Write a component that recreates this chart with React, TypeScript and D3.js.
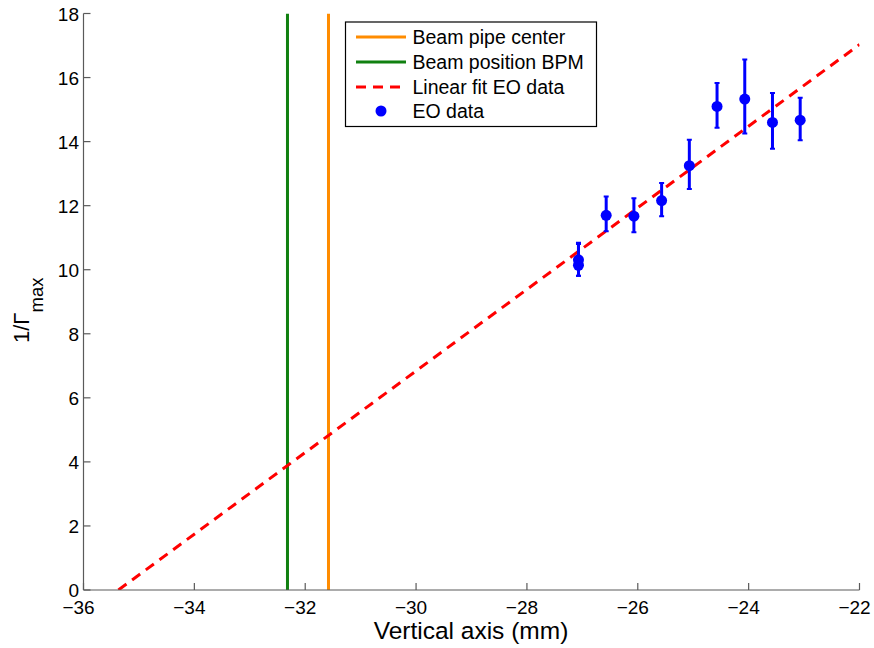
import React from "react";
import * as d3 from "d3";

const xData = [-27.07, -27.07, -26.57, -26.07, -25.57, -25.07, -24.57, -24.07, -23.57, -23.07];
const yData = [10.31, 10.14, 11.7, 11.67, 12.16, 13.25, 15.1, 15.33, 14.6, 14.67];
const errLow = [9.81, 9.81, 11.2, 11.17, 11.67, 12.52, 14.43, 14.25, 13.78, 14.04];
const errHigh = [10.8, 10.84, 12.29, 12.23, 12.71, 14.06, 15.83, 16.56, 15.52, 15.37];
const fitX = [-35.37, -22];
const fitY = [0, 17.03];
const beamPipeCenter = -31.58;
const beamPositionBPM = -32.32;
const xTicks = [-36, -34, -32, -30, -28, -26, -24, -22];
const yTicks = [0, 2, 4, 6, 8, 10, 12, 14, 16, 18];
const legendLabels = ["Beam pipe center", "Beam position BPM", "Linear fit EO data", "EO data"];

const W = 874, H = 648;
const L = 83.5, R = 859.5, T = 13.5, B = 590;

export default function App() {
  const x = d3.scaleLinear().domain([-36, -22]).range([L, R]);
  const y = d3.scaleLinear().domain([0, 18]).range([B, T]);
  const font = "'Liberation Sans', Arial, Helvetica, sans-serif";
  const axisColor = "#5a5a5a";
  const orange = "#ff8c00";
  const line = d3.line<number>().x((_, i) => x(fitX[i])).y((_, i) => y(fitY[i]));
  const fitPath = line(fitX) || "";
  const legendRowsY = [37, 62, 87, 111];
  return (
    <div style={{ position: "absolute", left: 0, top: 0 }}>
      <svg width={W} height={H} style={{ display: "block", background: "#fff" }} fontFamily={font}>
        <defs>
          <clipPath id="plot">
            <rect x={L} y={T} width={R - L} height={B - T} />
          </clipPath>
        </defs>
        <g clipPath="url(#plot)">
          <line x1={x(beamPipeCenter)} x2={x(beamPipeCenter)} y1={y(0)} y2={y(18)} stroke={orange} strokeWidth={3} />
          <line x1={x(beamPositionBPM)} x2={x(beamPositionBPM)} y1={y(0)} y2={y(18)} stroke="#108010" strokeWidth={3} />
          <path d={fitPath} stroke="#ff0000" strokeWidth={3} fill="none" strokeDasharray="10,7" />
          {xData.map((xv, i) => (
            <g key={i}>
              <line x1={x(xv)} x2={x(xv)} y1={y(errLow[i])} y2={y(errHigh[i])} stroke="#0000ff" strokeWidth={3} />
              <line x1={x(xv) - 2.5} x2={x(xv) + 2.5} y1={y(errLow[i])} y2={y(errLow[i])} stroke="#0000ff" strokeWidth={2} />
              <line x1={x(xv) - 2.5} x2={x(xv) + 2.5} y1={y(errHigh[i])} y2={y(errHigh[i])} stroke="#0000ff" strokeWidth={2} />
              <circle cx={x(xv)} cy={y(yData[i])} r={5.5} fill="#0000ff" />
            </g>
          ))}
        </g>
        {/* axes */}
        <line x1={L} x2={R} y1={B} y2={B} stroke={axisColor} strokeWidth={1.2} />
        <line x1={L} x2={L} y1={T} y2={B} stroke={axisColor} strokeWidth={1.2} />
        {xTicks.map((t) => (
          <g key={"xt" + t}>
            <line x1={x(t)} x2={x(t)} y1={B} y2={B - 7} stroke={axisColor} strokeWidth={1.2} />
            <text x={x(t) - 5} y={B + 24} textAnchor="middle" fontSize={19} fill="#000">
              {"\u2212" + Math.abs(t)}
            </text>
          </g>
        ))}
        {yTicks.map((t) => (
          <g key={"yt" + t}>
            <line x1={L} x2={L + 7} y1={y(t)} y2={y(t)} stroke={axisColor} strokeWidth={1.2} />
            <text x={L - 4.5} y={y(t) + 7} textAnchor="end" fontSize={19} fill="#000">
              {t}
            </text>
          </g>
        ))}
        <text x={471} y={639} textAnchor="middle" fontSize={24.5} fill="#000">
          Vertical axis (mm)
        </text>
        <text transform="translate(29, 343) rotate(-90)" textAnchor="start" fontSize={22} fill="#000">
          1/Γ<tspan fontSize={18.5} dy={14}>max</tspan>
        </text>
        {/* legend */}
        <rect x={345.5} y={22} width={251} height={104.5} fill="#fff" stroke="#000" strokeWidth={1.2} />
        <line x1={356} x2={406} y1={legendRowsY[0]} y2={legendRowsY[0]} stroke={orange} strokeWidth={3} />
        <line x1={356} x2={406} y1={legendRowsY[1]} y2={legendRowsY[1]} stroke="#108010" strokeWidth={3} />
        <line x1={356} x2={406} y1={legendRowsY[2]} y2={legendRowsY[2]} stroke="#ff0000" strokeWidth={3} strokeDasharray="10,7" />
        <circle cx={381} cy={legendRowsY[3]} r={5.5} fill="#0000ff" />
        {legendLabels.map((lab, i) => (
          <text key={lab} x={412.5} y={legendRowsY[i] + 7} fontSize={19.5} fill="#000">
            {lab}
          </text>
        ))}
      </svg>
    </div>
  );
}
